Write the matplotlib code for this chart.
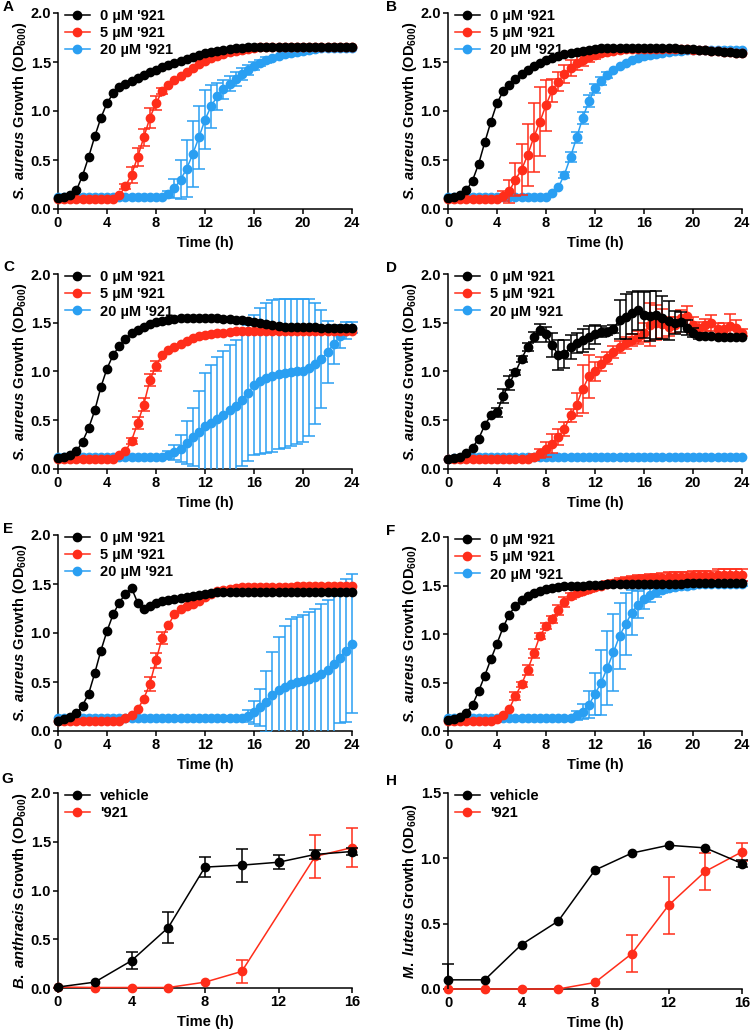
import numpy as np
import matplotlib
matplotlib.use('Agg')
import matplotlib.pyplot as plt
from matplotlib.patches import Rectangle
from matplotlib.ticker import FormatStrFormatter

plt.rcParams['font.family'] = 'Liberation Sans'
plt.rcParams['font.weight'] = 'bold'
plt.rcParams['mathtext.fontset'] = 'custom'
plt.rcParams['mathtext.rm'] = 'Liberation Sans:bold'
plt.rcParams['mathtext.it'] = 'Liberation Sans:italic:bold'
plt.rcParams['mathtext.bf'] = 'Liberation Sans:bold'

BLACK = '#000000'
RED = '#ff2d1a'
BLUE = '#2a9ff2'
FS = 10.5

# time grid for S. aureus curves (every 30 min)
t24 = np.arange(0, 24.5, 0.5)
dose_labels = ["0 \u00b5M '921", "5 \u00b5M '921", "20 \u00b5M '921"]

# ---- panel A
A_black = [0.11, 0.12, 0.14, 0.19, 0.34, 0.53, 0.74, 0.93, 1.08, 1.18, 1.24, 1.28, 1.31, 1.34, 1.37, 1.40,
           1.42, 1.45, 1.47, 1.49, 1.51, 1.53, 1.55, 1.57, 1.59, 1.60, 1.61, 1.62, 1.63, 1.64, 1.64,
           1.65, 1.65, 1.65, 1.65, 1.65, 1.65, 1.65, 1.65, 1.65, 1.65, 1.65, 1.65, 1.65, 1.65, 1.65, 1.65, 1.65, 1.65]
A_red = [0.10] * 10 + [0.14, 0.23, 0.35, 0.53, 0.73, 0.93, 1.08, 1.20, 1.27, 1.32, 1.36, 1.40, 1.44, 1.48, 1.51,
                       1.54, 1.56, 1.58, 1.60, 1.61, 1.62, 1.63, 1.64] + [1.65] * 16
A_red_err = [0.01] * 11 + [0.03, 0.08, 0.09, 0.09, 0.10, 0.07, 0.03] + [0.01] * 31
A_blue = [0.12] * 18 + [0.15, 0.21, 0.30, 0.41, 0.56, 0.73, 0.91, 1.05, 1.15, 1.22, 1.28, 1.33, 1.38, 1.42, 1.46,
                        1.49, 1.52, 1.54, 1.56, 1.58, 1.59, 1.60, 1.61, 1.62, 1.63] + [1.64] * 6
A_blue_err = [0.01] * 18 + [0.03, 0.10, 0.20, 0.29, 0.34, 0.32, 0.30, 0.22, 0.14, 0.10, 0.08, 0.07, 0.06, 0.05,
                            0.04, 0.03, 0.03] + [0.02] * 14

# ---- panel B
B_black = [0.11, 0.12, 0.14, 0.19, 0.29, 0.46, 0.68, 0.89, 1.08, 1.20, 1.27, 1.33, 1.38, 1.42, 1.46, 1.49,
           1.52, 1.54, 1.56, 1.58, 1.59, 1.60, 1.61, 1.62, 1.63] + [1.64] * 13 + \
          [1.63, 1.63, 1.63, 1.62, 1.62, 1.61, 1.61, 1.60, 1.60, 1.59, 1.59]
B_red = [0.10] * 9 + [0.13, 0.18, 0.30, 0.40, 0.55, 0.73, 0.89, 1.06, 1.21, 1.30, 1.38, 1.44, 1.49, 1.52, 1.55,
                      1.57, 1.59, 1.60, 1.61, 1.62] + [1.63] * 11 + \
        [1.62, 1.62, 1.62, 1.61, 1.61, 1.60, 1.60, 1.59, 1.59]
B_red_err = [0.01] * 9 + [0.05, 0.12, 0.17, 0.26, 0.32, 0.35, 0.35, 0.26, 0.12, 0.10, 0.09, 0.08, 0.07, 0.06,
                          0.05, 0.04, 0.03] + [0.02] * 23
B_blue = [0.12] * 17 + [0.16, 0.22, 0.35, 0.53, 0.73, 0.93, 1.10, 1.23, 1.31, 1.37, 1.42, 1.46, 1.49, 1.52,
                        1.54, 1.56, 1.57, 1.58, 1.59, 1.60, 1.61, 1.61] + [1.62] * 10
B_blue_err = [0.01] * 19 + [0.03, 0.05, 0.06, 0.06, 0.06, 0.05, 0.04, 0.03] + [0.02] * 22

# ---- panel C
C_black = [0.11, 0.12, 0.14, 0.18, 0.28, 0.42, 0.60, 0.84, 1.03, 1.17, 1.26, 1.33, 1.39, 1.43, 1.46, 1.49,
           1.51, 1.52, 1.53, 1.54] + [1.55] * 7 + \
          [1.54, 1.54, 1.53, 1.53, 1.52, 1.51, 1.50, 1.49, 1.48, 1.47] + \
          [1.46, 1.46, 1.46, 1.46, 1.46, 1.46, 1.45, 1.45, 1.45, 1.45, 1.45, 1.45]
C_red = [0.10] * 10 + [0.14, 0.18, 0.29, 0.47, 0.66, 0.91, 1.06, 1.17, 1.22, 1.25, 1.28, 1.31, 1.34, 1.36,
                       1.37, 1.38, 1.39, 1.40, 1.41] + [1.42] * 20
C_red_err = [0.01] * 12 + [0.03, 0.06, 0.07, 0.06, 0.05, 0.02] + [0.01] * 31
C_blue = [0.12] * 18 + [0.14, 0.17, 0.21, 0.27, 0.33, 0.38, 0.44, 0.47, 0.51, 0.55, 0.60, 0.65, 0.71, 0.78,
                        0.86, 0.90, 0.93, 0.95, 0.97, 0.98, 0.99, 1.00, 1.01, 1.04, 1.08, 1.13, 1.20, 1.28,
                        1.36, 1.42, 1.45]
C_blue_err = [0.01] * 18 + [0.04, 0.08, 0.14, 0.22, 0.30, 0.42, 0.54, 0.60, 0.64, 0.66, 0.67, 0.67, 0.68, 0.70,
                            0.72, 0.75, 0.77, 0.78, 0.77, 0.76, 0.75, 0.74, 0.73, 0.70, 0.62, 0.50, 0.32, 0.20,
                            0.12, 0.09, 0.06]

# ---- panel D
D_black = [0.10, 0.11, 0.12, 0.16, 0.22, 0.31, 0.45, 0.55, 0.58, 0.75, 0.88, 0.99, 1.13, 1.25, 1.35, 1.43,
           1.38, 1.27, 1.17, 1.18, 1.25, 1.29, 1.32, 1.35, 1.38, 1.41, 1.41, 1.44, 1.53, 1.56, 1.60, 1.63,
           1.58, 1.57, 1.58, 1.55, 1.52, 1.50, 1.51, 1.45, 1.40, 1.36, 1.36, 1.36, 1.35, 1.35, 1.35, 1.35, 1.35]
D_black_err = [0.01, 0.01, 0.01, 0.01, 0.02, 0.02, 0.02, 0.02, 0.05, 0.07, 0.07, 0.03, 0.03, 0.04, 0.05, 0.06,
               0.08, 0.12, 0.15, 0.14, 0.12, 0.10, 0.12, 0.12, 0.10, 0.06, 0.04, 0.04, 0.20, 0.23, 0.22, 0.20,
               0.24, 0.26, 0.25, 0.22, 0.20, 0.12, 0.10, 0.08, 0.05, 0.03, 0.02, 0.02, 0.02, 0.02, 0.02, 0.02, 0.02]
D_red = [0.10] * 14 + [0.12, 0.16, 0.20, 0.26, 0.33, 0.41, 0.55, 0.66, 0.82, 0.95, 1.00, 1.08, 1.14, 1.20,
                       1.25, 1.29, 1.32, 1.35, 1.40, 1.48, 1.50, 1.49, 1.46, 1.48, 1.55, 1.57, 1.48, 1.45,
                       1.48, 1.50, 1.44, 1.44, 1.47, 1.45, 1.40]
D_red_err = [0.01] * 14 + [0.03, 0.05, 0.08, 0.10, 0.08, 0.07, 0.07, 0.12, 0.25, 0.22, 0.10, 0.07, 0.06, 0.06,
                           0.06, 0.06, 0.06, 0.07, 0.10, 0.22, 0.18, 0.15, 0.10, 0.08, 0.08, 0.10, 0.08, 0.06,
                           0.06, 0.08, 0.06, 0.06, 0.12, 0.08, 0.04]
D_blue = [0.10, 0.11, 0.11] + [0.12] * 46

# ---- panel E
E_black = [0.10, 0.12, 0.14, 0.18, 0.26, 0.38, 0.59, 0.82, 1.02, 1.19, 1.31, 1.40, 1.46, 1.31, 1.25, 1.28,
           1.31, 1.33, 1.34, 1.35, 1.36, 1.37, 1.38, 1.39, 1.40, 1.41] + [1.42] * 23
E_red = [0.10] * 11 + [0.13, 0.16, 0.22, 0.33, 0.48, 0.72, 0.95, 1.08, 1.19, 1.25, 1.28, 1.30, 1.33, 1.37,
                       1.40, 1.43, 1.44, 1.45, 1.46] + [1.47] * 9 + [1.48] * 10
E_red_err = [0.01] * 14 + [0.02, 0.07, 0.08, 0.06, 0.02] + [0.01] * 30
E_blue = [0.13] * 31 + [0.15, 0.19, 0.24, 0.30, 0.37, 0.42, 0.45, 0.48, 0.50, 0.51, 0.53, 0.55, 0.58, 0.62,
                        0.68, 0.75, 0.82, 0.89]
E_blue_err = [0.01] * 31 + [0.06, 0.12, 0.19, 0.31, 0.44, 0.54, 0.62, 0.66, 0.66, 0.67, 0.68, 0.70, 0.72,
                            0.72, 0.70, 0.67, 0.73, 0.71]

# ---- panel F
F_black = [0.11, 0.12, 0.14, 0.19, 0.27, 0.41, 0.57, 0.74, 0.90, 1.07, 1.20, 1.29, 1.35, 1.39, 1.42, 1.44,
           1.46, 1.47, 1.48, 1.49, 1.50, 1.50, 1.50, 1.51, 1.51, 1.51, 1.52] + [1.52] * 12 + [1.53] * 10
F_red = [0.10] * 8 + [0.12, 0.16, 0.23, 0.36, 0.48, 0.63, 0.80, 0.98, 1.08, 1.15, 1.25, 1.33, 1.39, 1.42,
                      1.44, 1.46, 1.48, 1.50, 1.52, 1.53, 1.54, 1.55, 1.56, 1.57, 1.57, 1.58, 1.58, 1.58,
                      1.59, 1.59, 1.59, 1.59, 1.60, 1.60, 1.60, 1.60, 1.61, 1.61, 1.61, 1.61, 1.61]
F_red_err = [0.01] * 11 + [0.04, 0.03, 0.05, 0.05, 0.03, 0.03, 0.04, 0.05, 0.05, 0.03, 0.03, 0.03, 0.03,
                           0.03, 0.03, 0.03, 0.03, 0.04, 0.04, 0.04, 0.04, 0.04, 0.04, 0.04, 0.05, 0.05,
                           0.05, 0.05, 0.05, 0.05, 0.05, 0.05, 0.05, 0.06, 0.06, 0.06, 0.06, 0.06]
F_blue = [0.13] * 21 + [0.16, 0.20, 0.27, 0.38, 0.50, 0.65, 0.81, 0.98, 1.10, 1.22, 1.30, 1.36, 1.40, 1.43,
                        1.45, 1.47, 1.48, 1.49, 1.50, 1.51] + [1.52] * 8
F_blue_err = [0.01] * 21 + [0.05, 0.08, 0.14, 0.22, 0.34, 0.38, 0.40, 0.34, 0.32, 0.23, 0.14, 0.10, 0.07,
                            0.05] + [0.03] * 14

# ---- panels G and H (every 2 h)
t16 = [0, 2, 4, 6, 8, 10, 12, 14, 16]
G_vehicle = [0.01, 0.06, 0.28, 0.62, 1.24, 1.26, 1.29, 1.37, 1.40]
G_vehicle_err = [0.01, 0.02, 0.09, 0.16, 0.10, 0.17, 0.07, 0.05, 0.04]
G_drug_t = [0, 2, 4, 6, 8, 10, 14, 16]
G_drug = [0.01, 0.005, 0.005, 0.005, 0.06, 0.17, 1.35, 1.44]
G_drug_err = [0.0, 0.0, 0.0, 0.0, 0.01, 0.12, 0.22, 0.20]

H_vehicle = [0.07, 0.07, 0.34, 0.52, 0.91, 1.04, 1.10, 1.08, 0.96]
H_vehicle_err = [0.12, 0.01, 0.01, 0.01, 0.01, 0.01, 0.01, 0.01, 0.03]
H_drug = [0.0, 0.0, 0.0, 0.0, 0.05, 0.27, 0.64, 0.90, 1.05]
H_drug_err = [0.0, 0.0, 0.0, 0.0, 0.01, 0.14, 0.22, 0.14, 0.07]

W, H = 750, 1035
fig = plt.figure(figsize=(W / 100, H / 100), dpi=100)


def px_axes(left, right, top, bottom):
    return fig.add_axes([left / W, 1 - bottom / H, (right - left) / W, (bottom - top) / H])


def draw_panel(ax, series, labels, xmax, ymax, ylabel):
    handles = {}
    for z, (name, x, y, err, color) in enumerate(series):
        # error bars shorter than the symbol are hidden behind it (not drawn)
        err = np.asarray(err, dtype=float)
        err = np.where(err > 0.025, err, np.nan)
        cont = ax.errorbar(x, y, yerr=err, fmt='-o', color=color, ms=6, lw=1.1,
                           elinewidth=1.1, capsize=4, capthick=1.1, zorder=3 + z)
        line, caps, bars = cont.lines
        line.set_clip_on(False)
        clip = Rectangle((-1, 0), xmax + 2, ymax * 2, transform=ax.transData)
        for a in list(caps) + list(bars):
            a.set_clip_path(clip)
        handles[name] = line
    order = [n for n in labels]
    ax.legend([handles[n] for n in order], [labels[n] for n in order],
              loc='upper left', bbox_to_anchor=(0.024, 1.02), borderpad=0, borderaxespad=0,
              frameon=False, handlelength=1.7, handletextpad=0.7, labelspacing=0.22,
              prop={'size': FS, 'weight': 'bold'})
    ax.set_xlim(0, xmax)
    ax.set_ylim(0, ymax)
    ax.set_xticks(np.arange(0, xmax + 1, 4))
    ax.set_yticks(np.arange(0, ymax + 0.01, 0.5))
    ax.yaxis.set_major_formatter(FormatStrFormatter('%.1f'))
    for s in ['top', 'right']:
        ax.spines[s].set_visible(False)
    for s in ['left', 'bottom']:
        ax.spines[s].set_linewidth(1.1)
    ax.tick_params(direction='out', length=3.6, width=1.1, labelsize=FS, pad=1.5)
    ax.set_xlabel('Time (h)', fontsize=FS, fontweight='bold')
    ax.set_ylabel(ylabel, fontsize=FS, fontweight='bold')
    ax.xaxis.set_label_coords(0.5, -0.14)
    ax.yaxis.set_label_coords(-0.097, 0.5)


sa_label = r"$\it{S.\ aureus}$ Growth (OD$_{600}$)"
dose_map = {'black': dose_labels[0], 'red': dose_labels[1], 'blue': dose_labels[2]}

panels24 = [
    ('A', (58, 352, 13, 209), A_black, [0.01] * 49, A_red, A_red_err, A_blue, A_blue_err),
    ('B', (448, 742, 13, 209), B_black, [0.01] * 49, B_red, B_red_err, B_blue, B_blue_err),
    ('C', (58, 352, 274, 469), C_black, [0.01] * 49, C_red, C_red_err, C_blue, C_blue_err),
    ('D', (448, 742, 274, 469), D_black, D_black_err, D_red, D_red_err, D_blue, [0.01] * 49),
    ('E', (58, 352, 535, 731), E_black, [0.01] * 49, E_red, E_red_err, E_blue, E_blue_err),
    ('F', (448, 742, 537, 731), F_black, [0.01] * 49, F_red, F_red_err, F_blue, F_blue_err),
]

for letter, box, kb, kbe, rd, rde, bl, ble in panels24:
    ax = px_axes(*box)
    series = [('blue', t24, bl, ble, BLUE), ('red', t24, rd, rde, RED), ('black', t24, kb, kbe, BLACK)]
    labels = {'black': dose_map['black'], 'red': dose_map['red'], 'blue': dose_map['blue']}
    draw_panel(ax, series, labels, 24, 2.0, sa_label)

axG = px_axes(58, 352, 793, 988)
draw_panel(axG, [('drug', G_drug_t, G_drug, G_drug_err, RED), ('veh', t16, G_vehicle, G_vehicle_err, BLACK)],
           {'veh': 'vehicle', 'drug': "'921"}, 16, 2.0, r"$\it{B.\ anthracis}$ Growth (OD$_{600}$)")

axH = px_axes(448, 742, 793, 989)
draw_panel(axH, [('drug', t16, H_drug, H_drug_err, RED), ('veh', t16, H_vehicle, H_vehicle_err, BLACK)],
           {'veh': 'vehicle', 'drug': "'921"}, 16, 1.5, r"$\it{M.\ luteus}$ Growth (OD$_{600}$)")

# panel letters
letters = {'A': (3, 0), 'B': (386, 0), 'C': (3, 260), 'D': (386, 261),
           'E': (3, 522), 'F': (386, 524), 'G': (1, 772), 'H': (386, 774)}
for k, (x, y) in letters.items():
    fig.text(x / W, 1 - y / H, k, fontsize=11, fontweight='bold', va='top', ha='left')

fig.savefig('out.png', dpi=100)
